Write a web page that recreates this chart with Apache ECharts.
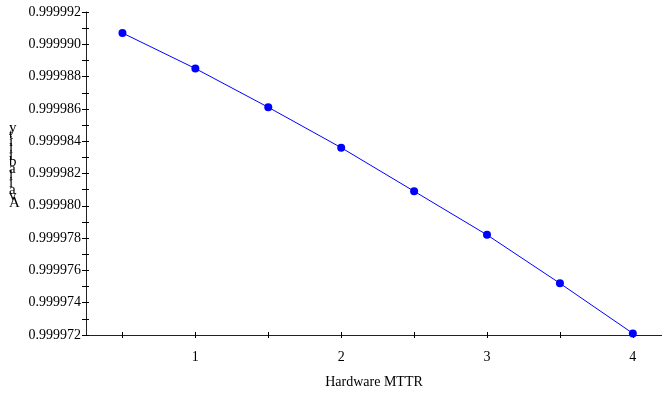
<!DOCTYPE html>
<html>
<head>
<meta charset="utf-8">
<script src="https://cdn.jsdelivr.net/npm/echarts@6/dist/echarts.min.js"></script>
<style>
  html, body { margin: 0; padding: 0; background: #fff; }
  #chart { width: 662px; height: 394px; }
</style>
</head>
<body>
<div id="chart"></div>
<script>
// Hardware MTTR vs availability
const mttr = [0.5, 1, 1.5, 2, 2.5, 3, 3.5, 4];
const availability = [0.9999907, 0.9999885, 0.9999861, 0.9999836, 0.9999809, 0.9999782, 0.9999752, 0.9999721];

const xLabelValues = [1, 2, 3, 4];
const xTickValues = [0.5, 1, 1.5, 2, 2.5, 3, 3.5, 4];
const yLabelValues = [0.999972, 0.999974, 0.999976, 0.999978, 0.99998, 0.999982, 0.999984, 0.999986, 0.999988, 0.99999, 0.999992];
const yTickValues = [];
for (let i = 0; i <= 20; i++) yTickValues.push(+(0.999972 + i * 0.000001).toFixed(6));

const FONT = 'Liberation Serif';
const INK = '#000';

const chart = echarts.init(document.getElementById('chart'), null, { renderer: 'canvas' });

const xBase = { type: 'value', min: 0.25, max: 4.2, splitLine: { show: false } };
const yBase = { type: 'value', min: 0.999972, max: 0.999992, splitLine: { show: false } };

// 刻度线跨过轴线：第二根轴往里挪 3px，刻度向外画 6px
chart.setOption({
  animation: false,
  grid: { left: 86, right: 0, top: 12, bottom: 58 },
  xAxis: [
    {
      ...xBase,
      name: 'Hardware MTTR',
      nameLocation: 'middle',
      nameGap: 40,
      nameTextStyle: { fontFamily: FONT, fontSize: 14, color: INK },
      axisLine: { show: true, onZero: false, lineStyle: { color: '#222', width: 1 } },
      axisTick: { show: false },
      axisLabel: { customValues: xLabelValues, margin: 15, fontFamily: FONT, fontSize: 14, color: INK },
    },
    {
      ...xBase,
      gridIndex: 0,
      position: 'bottom',
      offset: -3,
      axisLine: { show: false, onZero: false },
      axisTick: { show: true, length: 6, customValues: xTickValues, lineStyle: { color: INK } },
      axisLabel: { show: false },
    },
  ],
  yAxis: [
    {
      ...yBase,
      axisLine: { show: true, onZero: false, lineStyle: { color: '#222', width: 1 } },
      axisTick: { show: false },
      axisLabel: {
        customValues: yLabelValues,
        margin: 5,
        fontFamily: FONT,
        fontSize: 14,
        color: INK,
        formatter: (v) => v.toFixed(6),
      },
    },
    {
      ...yBase,
      position: 'left',
      offset: -3,
      axisLine: { show: false, onZero: false },
      axisTick: { show: true, length: 7, customValues: yTickValues, lineStyle: { color: INK } },
      axisLabel: { show: false },
    },
  ],
  graphic: [
    {
      type: 'text',
      left: 9,
      top: 121,
      style: {
        text: 'y\nt\ni\nl\ni\nb\na\nl\ni\na\nv\nA',
        fontFamily: FONT,
        fontSize: 15,
        lineHeight: 6.8,
        fill: INK,
        align: 'center',
      },
    },
  ],
  series: [
    {
      name: 'Availability',
      type: 'line',
      data: mttr.map((x, i) => [x, availability[i]]),
      symbol: 'circle',
      symbolSize: 8,
      lineStyle: { color: '#0000ff', width: 1 },
      itemStyle: { color: '#0000ff' },
    },
  ],
});
</script>
</body>
</html>
